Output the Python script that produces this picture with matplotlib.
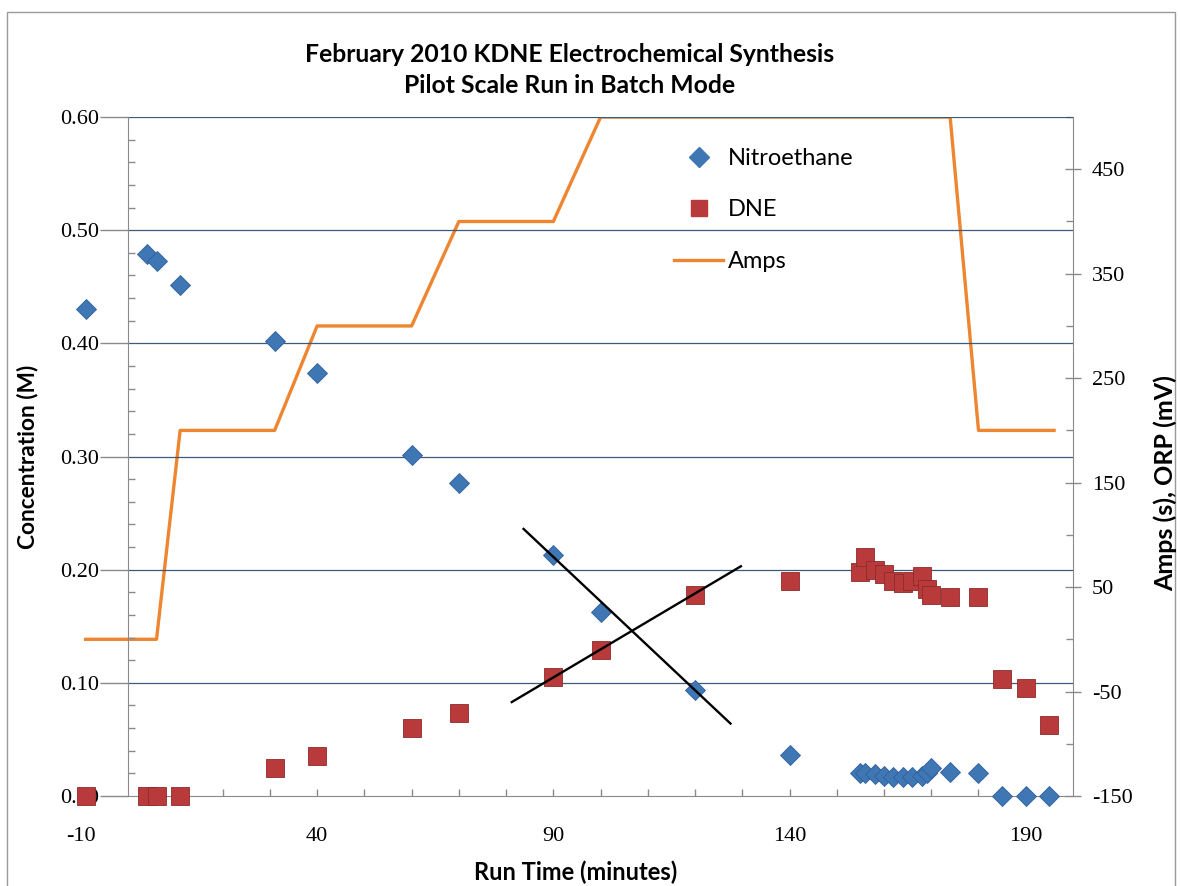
#!/usr/bin/env python3
# KDNE electrochemical synthesis - pilot scale batch run

import numpy as np
import matplotlib
matplotlib.use('Agg')
import matplotlib.pyplot as plt
from matplotlib.ticker import FixedLocator, MultipleLocator
from matplotlib.lines import Line2D
from matplotlib.patches import Rectangle

plt.rcParams['axes.unicode_minus'] = False

# ---------------------------------------------------------------------------
# Data
# ---------------------------------------------------------------------------
ne_time = [-9, 4, 6, 11, 31, 40, 60, 70, 90, 100, 120, 140,
           155, 156, 158, 160, 162, 164, 166, 168, 169, 170, 174, 180,
           185, 190, 195]
ne_conc = [0.430, 0.479, 0.473, 0.452, 0.402, 0.374, 0.301, 0.277, 0.213, 0.163, 0.094, 0.036,
           0.020, 0.020, 0.019, 0.018, 0.017, 0.017, 0.017, 0.018, 0.020, 0.025, 0.021, 0.020,
           0.000, 0.000, 0.000]

dne_time = [-9, 4, 6, 11, 31, 40, 60, 70, 90, 100, 120, 140,
            155, 156, 158, 160, 162, 164, 166, 168, 169, 170, 174, 180,
            185, 190, 195]
dne_conc = [0.000, 0.000, 0.000, 0.000, 0.025, 0.035, 0.060, 0.073, 0.105, 0.129, 0.178, 0.190,
            0.198, 0.211, 0.200, 0.196, 0.190, 0.188, 0.190, 0.194, 0.183, 0.178, 0.176, 0.176,
            0.103, 0.095, 0.063]

amps_time = [-9, 6, 11, 31, 40, 60, 70, 90, 100, 155, 170, 174, 180, 196]
amps_val = [0, 0, 200, 200, 300, 300, 400, 400, 500, 500, 500, 500, 200, 200]

# hand-drawn guide lines (start/end in minutes, concentration)
trend_lines = [([83.7, 127.5], [0.236, 0.064]),
               ([81.2, 129.7], [0.083, 0.203])]

title = 'February 2010 KDNE Electrochemical Synthesis\nPilot Scale Run in Batch Mode'

# ---------------------------------------------------------------------------
blue = '#3F77B5'
red = '#B83A3A'
orange = '#EE8530'
grid_c = '#3E5A78'
axis_c = '#8A8A8A'
sans = ['Lato', 'DejaVu Sans']
serif = ['Liberation Serif', 'DejaVu Serif']

fig = plt.figure(figsize=(11.8, 8.86), dpi=100)
ax = fig.add_axes([0.0686, 0.1016, 0.8407, 0.7663])
ax2 = ax.twinx()

# outer chart border
fig.patches.append(Rectangle((7 / 1180, -0.01), 1168 / 1180, 1 - 12 / 886 + 0.01,
                             transform=fig.transFigure, fill=False,
                             edgecolor='#9A9A9A', lw=1.0))

ax.set_xlim(-10, 200)
ax.set_ylim(0, 0.60)
ax2.set_ylim(-150, 500)

# gridlines from the vertical axis across
ax.hlines(np.arange(0.1, 0.61, 0.1), 0, 200, color=grid_c, lw=0.9, zorder=1)

# series
ax.plot(ne_time, ne_conc, ls='none', marker='D', ms=10.5, color=blue,
        mec='#2E6099', mew=0.6, clip_on=False, zorder=4)
ax.plot(dne_time, dne_conc, ls='none', marker='s', ms=12.5, color=red,
        mec='#8E2A2A', mew=0.6, clip_on=False, zorder=4)
ax2.plot(amps_time, amps_val, color=orange, lw=2.4, zorder=3)
for xs, ys in trend_lines:
    ax.plot(xs, ys, color='black', lw=1.7, zorder=5)

ax.set_zorder(ax2.get_zorder() + 1)
ax.patch.set_visible(False)

# spines
for s in ['top', 'right']:
    ax.spines[s].set_visible(False)
ax.spines['left'].set_position(('data', 0))
ax.spines['left'].set_color(axis_c)
ax.spines['bottom'].set_color(axis_c)
ax.spines['bottom'].set_bounds(0, 200)
for s in ['top', 'left', 'bottom']:
    ax2.spines[s].set_visible(False)
ax2.spines['right'].set_color(axis_c)

# left axis ticks
ax.set_yticks(np.arange(0, 0.61, 0.1))
ax.set_yticklabels(['%.2f' % v for v in np.arange(0, 0.61, 0.1)])
ax.yaxis.set_minor_locator(MultipleLocator(0.02))
ax.tick_params(axis='y', which='major', direction='out', length=20, width=1,
               color=axis_c, pad=1, labelsize=16)
ax.tick_params(axis='y', which='minor', direction='in', length=5, width=1, color=axis_c)

# x axis ticks
ax.set_xticks([-10, 40, 90, 140, 190])
ax.xaxis.set_minor_locator(FixedLocator(np.arange(10, 200, 10)))
ax.xaxis.remove_overlapping_locs = False
ax.tick_params(axis='x', which='major', length=0, pad=22, labelsize=16)
ax.tick_params(axis='x', which='minor', direction='in', length=5, width=1, color=axis_c)

# right axis ticks
ax2.set_yticks(np.arange(-150, 451, 100))
ax2.yaxis.set_minor_locator(MultipleLocator(50))
ax2.tick_params(axis='y', which='major', direction='inout', length=11, width=1,
                color=axis_c, pad=8, labelsize=16)
ax2.tick_params(axis='y', which='minor', direction='in', length=5, width=1, color=axis_c)

for lab in ax.get_xticklabels() + ax.get_yticklabels() + ax2.get_yticklabels():
    lab.set_family(serif)

# titles and axis labels
fig.text(570 / 1180, 1 - 70 / 886, title, ha='center', va='center',
         fontsize=17.8, fontweight='bold', family=sans, linespacing=1.45)
fig.text(576 / 1180, 1 - 872 / 886, 'Run Time (minutes)', ha='center', va='center',
         fontsize=17, fontweight='bold', family=sans)
fig.text(28 / 1180, 1 - 457 / 886, 'Concentration (M)', ha='center', va='center',
         rotation=90, fontsize=16.3, fontweight='bold', family=sans)
fig.text(1165 / 1180, 1 - 483 / 886, 'Amps (s), ORP (mV)', ha='center', va='center',
         rotation=90, fontsize=18, fontweight='bold', family=sans)

# legend
handles = [Line2D([], [], ls='none', marker='D', ms=10, color=blue),
           Line2D([], [], ls='none', marker='s', ms=12, color=red),
           Line2D([], [], color=orange, lw=2.4)]
fig.legend(handles, ['Nitroethane', 'DNE', 'Amps'], loc='upper left',
           bbox_to_anchor=(662 / 1180, 1 - 136 / 886), frameon=False,
           prop={'family': sans, 'size': 17}, handlelength=2.1, handletextpad=0.2,
           labelspacing=1.3, borderpad=0)

fig.savefig('out.png', dpi=100, facecolor='w')
plt.close()
